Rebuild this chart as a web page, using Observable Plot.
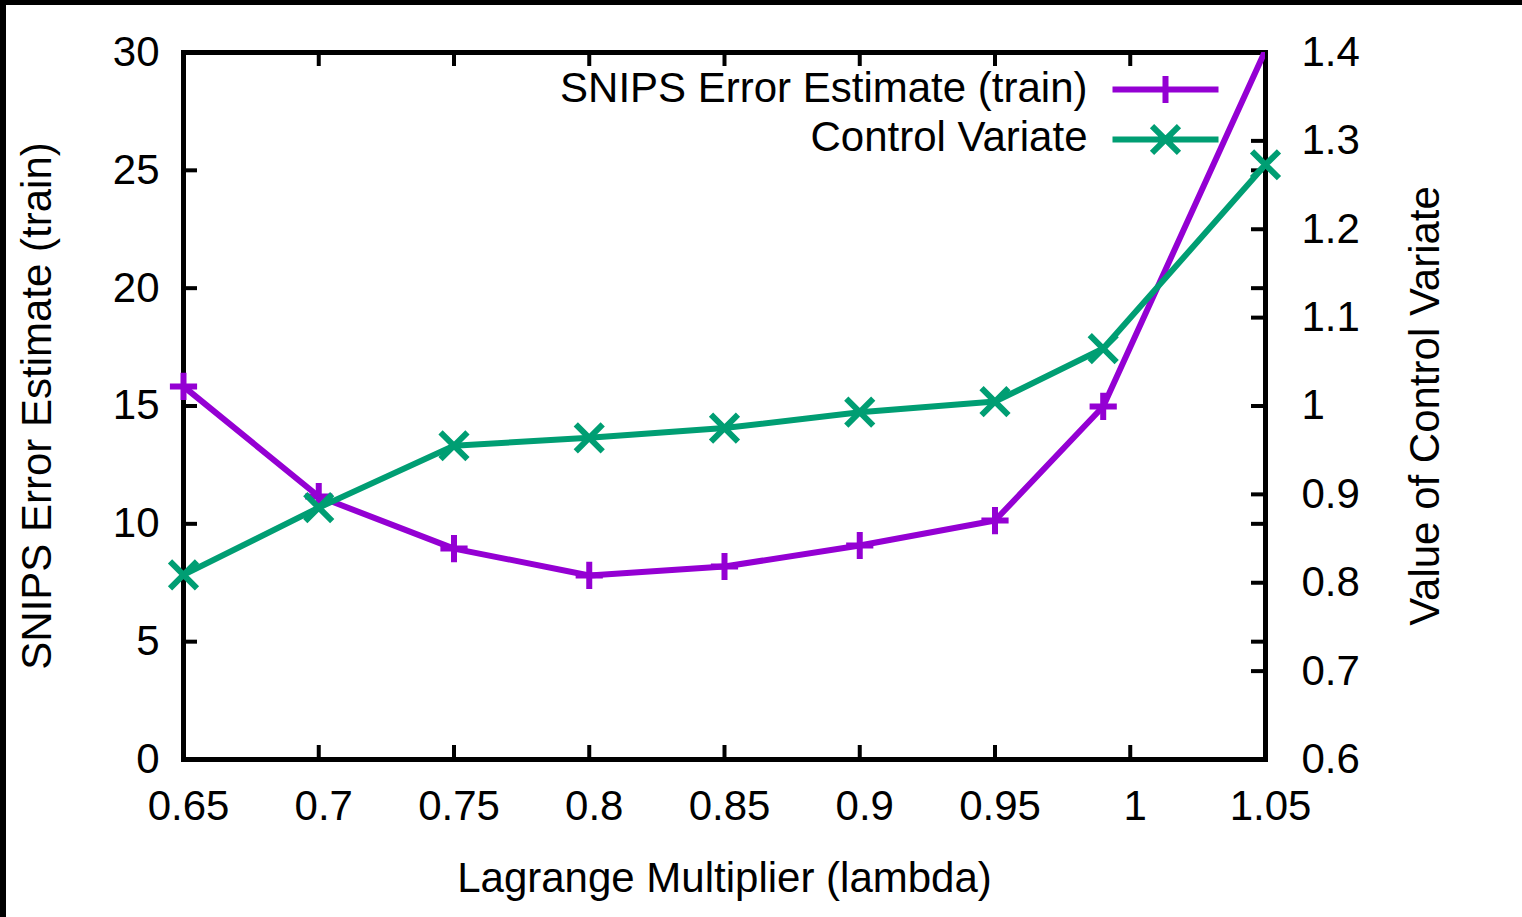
<!DOCTYPE html>
<html><head><meta charset="utf-8">
<script src="https://cdn.jsdelivr.net/npm/d3@7"></script>
<script src="https://cdn.jsdelivr.net/npm/@observablehq/plot@0.6"></script>
<style>
html,body{margin:0;padding:0;background:#fff;}
#chart{width:1516px;height:912px;border-top:5px solid #000;border-left:6px solid #000;background:#fff;}
#chart svg{display:block;}
</style></head><body><div id="chart"></div>
<script>
// ---- data ----
const lambdas = [0.65, 0.7, 0.75, 0.8, 0.85, 0.9, 0.95, 0.99, 1.05];
const snipsError = [15.83, 11.16, 8.95, 7.81, 8.19, 9.08, 10.14, 14.98, 30.1];
const controlVariate = [0.809, 0.885, 0.955, 0.964, 0.975, 0.993, 1.005, 1.065, 1.273];
const seriesNames = ["SNIPS Error Estimate (train)", "Control Variate"];
const xTicks = [0.65, 0.7, 0.75, 0.8, 0.85, 0.9, 0.95, 1, 1.05];
const xTickLabels = ["0.65", "0.7", "0.75", "0.8", "0.85", "0.9", "0.95", "1", "1.05"];
const yTicks = [0, 5, 10, 15, 20, 25, 30];
const yTickLabels = ["0", "5", "10", "15", "20", "25", "30"];
const y2Ticks = [0.6, 0.7, 0.8, 0.9, 1.0, 1.1, 1.2, 1.3, 1.4];
const y2TickLabels = ["0.6", "0.7", "0.8", "0.9", "1", "1.1", "1.2", "1.3", "1.4"];
const xTitle = "Lagrange Multiplier (lambda)";
const yTitle = "SNIPS Error Estimate (train)";
const y2Title = "Value of Control Variate";

// ---- setup ----
const purple = "#9400d3", green = "#009e73";
const yDomain = [yTicks[0], yTicks[yTicks.length - 1]];
const y2Domain = [y2Ticks[0], y2Ticks[y2Ticks.length - 1]];
const toY = v => yDomain[0] + (v - y2Domain[0]) / (y2Domain[1] - y2Domain[0]) * (yDomain[1] - yDomain[0]);
const inRange = d => d.y >= yDomain[0] && d.y <= yDomain[1];

const W = 1516, H = 912;
const mL = 177, mR = 257, mT = 47, mB = 158;
const plotW = W - mL - mR, plotH = H - mT - mB;
const tickLen = 14;
const FS = 42;
const LW = 6;
const rPlus = 8.8, rTimes = 12.3;

const snipsData = lambdas.map((x, i) => ({x, y: snipsError[i]}));
const cvData = lambdas.map((x, i) => ({x, y: toY(controlVariate[i])}));

const legendSym = base => ({
  draw(ctx, size) {
    ctx.moveTo(-53, 0); ctx.lineTo(53, 0);
    base.draw(ctx, size);
  }
});

const chart = Plot.plot({
  width: W, height: H,
  marginLeft: mL, marginRight: mR, marginTop: mT, marginBottom: mB,
  style: {fontFamily: "'Liberation Sans', Arial, Helvetica, sans-serif", background: "#fff", color: "#000"},
  x: {domain: [xTicks[0], xTicks[xTicks.length - 1]], axis: null},
  y: {domain: yDomain, axis: null},
  marks: [
    // ticks (inward)
    Plot.tickX(xTicks, {x: d => d, insetTop: plotH - tickLen, stroke: "#000", strokeWidth: 4}),
    Plot.tickX(xTicks, {x: d => d, insetBottom: plotH - tickLen, stroke: "#000", strokeWidth: 4}),
    Plot.tickY(yTicks, {y: d => d, insetRight: plotW - tickLen, stroke: "#000", strokeWidth: 4}),
    Plot.tickY(yTicks, {y: d => d, insetLeft: plotW - tickLen, stroke: "#000", strokeWidth: 4}),
    Plot.tickY(y2Ticks, {y: d => toY(d), insetLeft: plotW - tickLen, stroke: "#000", strokeWidth: 4}),
    Plot.frame({stroke: "#000", strokeWidth: 5}),
    // tick labels
    Plot.text(xTicks, {x: d => d, text: (d, i) => xTickLabels[i], frameAnchor: "bottom", dx: 5, dy: 47, textAnchor: "middle", lineAnchor: "middle", fontSize: FS, fill: "#000"}),
    Plot.text(yTicks, {y: d => d, text: (d, i) => yTickLabels[i], frameAnchor: "left", dx: -24, textAnchor: "end", lineAnchor: "middle", fontSize: FS, fill: "#000"}),
    Plot.text(y2Ticks, {y: d => toY(d), text: (d, i) => y2TickLabels[i], frameAnchor: "right", dx: 36, textAnchor: "start", lineAnchor: "middle", fontSize: FS, fill: "#000"}),
    // axis titles
    Plot.text([xTitle], {frameAnchor: "bottom", dy: 119, textAnchor: "middle", lineAnchor: "middle", fontSize: FS, fill: "#000"}),
    Plot.text([yTitle], {frameAnchor: "left", dx: -146, rotate: -90, textAnchor: "middle", lineAnchor: "middle", fontSize: FS, fill: "#000"}),
    Plot.text([y2Title], {frameAnchor: "right", dx: 160, rotate: -90, textAnchor: "middle", lineAnchor: "middle", fontSize: FS, fill: "#000"}),
    // series
    Plot.line(snipsData, {x: "x", y: "y", stroke: purple, strokeWidth: LW, strokeLinejoin: "miter", strokeLinecap: "butt", clip: true}),
    Plot.dot(snipsData, {x: "x", y: "y", filter: inRange, symbol: "plus", r: rPlus, stroke: purple, fill: "none", strokeWidth: LW, strokeLinecap: "butt"}),
    Plot.line(cvData, {x: "x", y: "y", stroke: green, strokeWidth: LW, strokeLinejoin: "miter", strokeLinecap: "butt", clip: true}),
    Plot.dot(cvData, {x: "x", y: "y", filter: inRange, symbol: "times", r: rTimes, stroke: green, fill: "none", strokeWidth: LW, strokeLinecap: "butt"}),
    // legend
    Plot.text([seriesNames[0]], {frameAnchor: "top-right", dx: -178, dy: 36, textAnchor: "end", lineAnchor: "middle", fontSize: FS, fill: "#000"}),
    Plot.text([seriesNames[1]], {frameAnchor: "top-right", dx: -178, dy: 85, textAnchor: "end", lineAnchor: "middle", fontSize: FS, fill: "#000"}),
    Plot.dot([seriesNames[0]], {frameAnchor: "top-right", dx: -100, dy: 37, symbol: legendSym(d3.symbolPlus), r: rPlus, stroke: purple, fill: "none", strokeWidth: LW, strokeLinecap: "butt"}),
    Plot.dot([seriesNames[1]], {frameAnchor: "top-right", dx: -100, dy: 87, symbol: legendSym(d3.symbolTimes), r: rTimes, stroke: green, fill: "none", strokeWidth: LW, strokeLinecap: "butt"})
  ]
});
document.getElementById("chart").appendChild(chart);
</script>
</body></html>
